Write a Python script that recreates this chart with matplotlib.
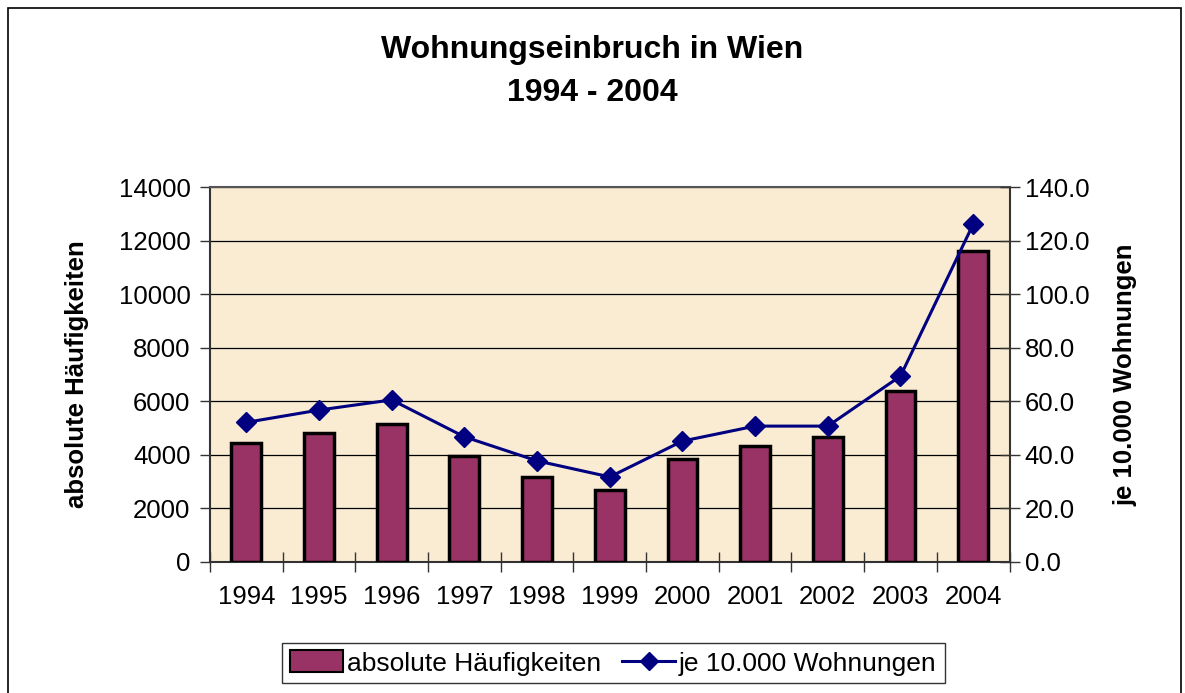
import matplotlib
matplotlib.use("Agg")
import matplotlib.pyplot as plt
import matplotlib.patches as mpatches
import matplotlib.lines as mlines
import numpy as np

plt.rcParams['font.family'] = ['Liberation Sans', 'DejaVu Sans']

years = ['1994', '1995', '1996', '1997', '1998', '1999', '2000', '2001', '2002', '2003', '2004']
absolute = [4428, 4824, 5150, 3960, 3180, 2695, 3832, 4327, 4675, 6395, 11608]
per_10000 = [52.1, 56.7, 60.5, 46.7, 37.7, 31.7, 45.1, 50.7, 50.7, 69.4, 126.2]

bar_color = '#993366'
line_color = '#000080'
bg_color = '#F9ECD3'

fig = plt.figure(figsize=(11.85, 6.93), dpi=100)
ax = fig.add_axes([0.1772, 0.1895, 0.8519 - 0.1772, 0.7297 - 0.1895])
ax.set_facecolor(bg_color)

x = np.arange(len(years))
ax.bar(x, absolute, width=0.41, color=bar_color, edgecolor='black', linewidth=2.5, zorder=3)
ax.set_xlim(-0.5, len(years) - 0.5)
ax.set_ylim(0, 14000)
ax.set_yticks(np.arange(0, 14001, 2000))
ax.yaxis.grid(True, color='black', linewidth=0.9, zorder=0)
ax.set_axisbelow(True)
ax.set_xticks(x)
ax.set_xticklabels(years, fontsize=18.5)
ax.set_xticks(np.arange(-0.5, len(years), 1), minor=True)
ax.tick_params(axis='x', which='major', length=0, pad=17)
ax.tick_params(axis='x', which='minor', direction='inout', length=14, width=1, color='#333333')
ax.tick_params(axis='y', labelsize=18.5, direction='out', length=7, width=1, pad=7, color='#333333')
for s in ['left', 'right', 'bottom']:
    ax.spines[s].set_color('#333333')
    ax.spines[s].set_linewidth(1.5)
ax.spines['top'].set_color('#555555')
ax.spines['top'].set_linewidth(1.5)
ax.set_ylabel('absolute Häufigkeiten', fontsize=18.5, fontweight='bold', labelpad=21)

ax2 = ax.twinx()
ax2.plot(x, per_10000, color=line_color, linewidth=2.2, marker='D', markersize=10, zorder=4)
ax2.set_ylim(0, 140)
ax2.set_yticks(np.arange(0, 141, 20))
ax2.set_yticklabels([f'{v:.1f}' for v in np.arange(0, 141, 20)])
ax2.tick_params(axis='y', labelsize=18.5, direction='inout', length=14, width=1, pad=4, color='#333333')
for s in ['left', 'right', 'bottom', 'top']:
    ax2.spines[s].set_visible(False)
ax2.set_ylabel('je 10.000 Wohnungen', fontsize=18.5, fontweight='bold', labelpad=17)

fig.text(0.5, 1 - 50 / 693, 'Wohnungseinbruch in Wien', ha='center', va='center',
         fontsize=23, fontweight='bold')
fig.text(0.5, 1 - 93 / 693, '1994 - 2004', ha='center', va='center',
         fontsize=23, fontweight='bold')

bar_handle = mpatches.Patch(facecolor=bar_color, edgecolor='black', linewidth=1.5, label='absolute Häufigkeiten')
line_handle = mlines.Line2D([], [], color=line_color, linewidth=2.2, marker='D', markersize=9, label='je 10.000 Wohnungen')
leg = fig.legend(handles=[bar_handle, line_handle], loc='center', bbox_to_anchor=(613.5 / 1185, 1 - 663 / 693), ncol=2,
                 fontsize=19, frameon=True, fancybox=False, edgecolor='black', borderpad=0.3,
                 handlelength=2.0, handletextpad=0.15, columnspacing=0.8, handleheight=0.9, borderaxespad=0)
leg.get_frame().set_linewidth(1.0)

border = mpatches.Rectangle((8 / 1185, -0.05), 1 - 12 / 1185, 1.05 - 8 / 693, transform=fig.transFigure,
                            fill=False, edgecolor='black', linewidth=1.2)
fig.patches.append(border)

fig.savefig('out.png', dpi=100)
